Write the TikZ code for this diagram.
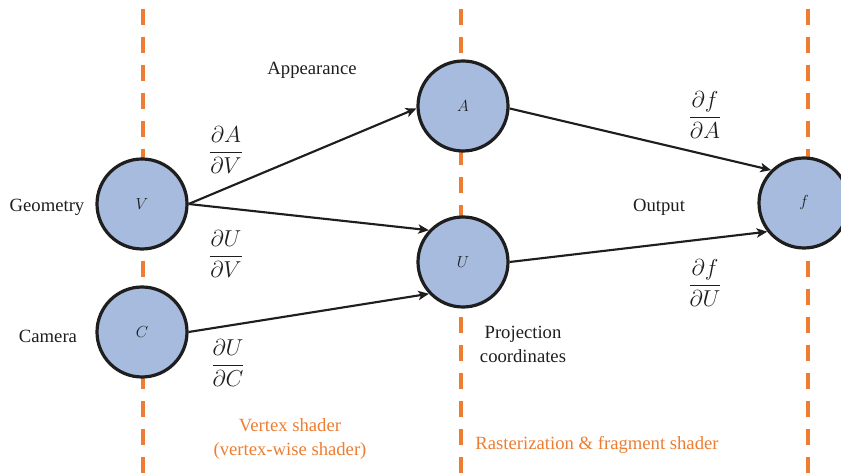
\documentclass[tikz,border=0pt]{standalone}
\usepackage{amsmath}
\usepackage{fontspec}
\setmainfont{Liberation Serif}
\usetikzlibrary{shapes.geometric, arrows, arrows.meta}
\definecolor{shaderorange}{RGB}{237,125,49}
\definecolor{nodeblue}{RGB}{166,187,222}
\definecolor{inkblack}{RGB}{30,30,30}
\tikzstyle{var} = [circle, minimum size=67.5pt, inner sep=0pt, line width=2.4pt,
    draw=inkblack, fill=nodeblue, text=inkblack, font=\fontsize{13}{15}\selectfont]
\tikzstyle{txt} = [text=inkblack, align=center, font=\fontsize{14}{18}\selectfont]
\tikzstyle{grad} = [text=inkblack, font=\fontsize{16}{19}\selectfont]
\tikzstyle{stage} = [text=shaderorange, align=center, font=\fontsize{14}{18}\selectfont]
\tikzstyle{border} = [draw=shaderorange, line width=2.6pt, dash pattern=on 12pt off 9pt]
\tikzstyle{arrow} = [line width=1.6pt, draw=inkblack, -{Stealth[length=8pt, width=7pt, inset=2pt]}]

\begin{document}
\begin{tikzpicture}[x=0.75pt, y=-0.75pt]
            \useasboundingbox (0,0) rectangle (841,473);
            % stage borders
            \foreach \x in {143,461,808}
                \draw [border] (\x,9) -- (\x,473);

            \node (V) [var] at (142,204) {$V$};
            \node (C) [var] at (142,332) {$C$};
            \node (A) [var] at (463,106) {$A$};
            \node (U) [var] at (463,262) {$U$};
            \node (f) [var] at (804,203) {$f$};

            \node (geometry) [txt] at (47,207) {Geometry};
            \node (camera) [txt] at (48,336) {Camera};
            \node (appearance) [txt] at (312,70) {Appearance};
            \node (output) [txt] at (659,207) {Output};
            \node (projection) [txt] at (523,344) {Projection\\coordinates};

            \node (dAdV) [grad] at (226,150) {$\dfrac{\partial A}{\partial V}$};
            \node (dUdV) [grad] at (226,254) {$\dfrac{\partial U}{\partial V}$};
            \node (dUdC) [grad] at (228,363) {$\dfrac{\partial U}{\partial C}$};
            \node (dfdA) [grad] at (705,115) {$\dfrac{\partial f}{\partial A}$};
            \node (dfdU) [grad] at (705,283) {$\dfrac{\partial f}{\partial U}$};

            \node (vertex) [stage] at (290,439) {Vertex shader\\(vertex-wise shader)};
            \node (raster) [stage] at (597,445) {Rasterization \& fragment shader};

            \draw [arrow] (V.east) -- (A.183);
            \draw [arrow] (V.east) -- (U.137);
            \draw [arrow] (C.east) -- (U.223);
            \draw [arrow] (A.357) -- (f.135);
            \draw [arrow] (U.east) -- (f.218);
        \end{tikzpicture}
\end{document}
